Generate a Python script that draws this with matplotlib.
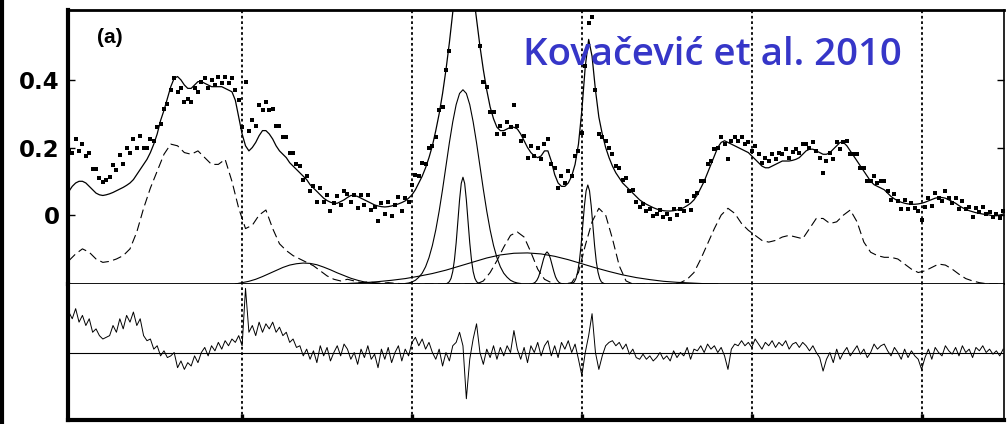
import numpy as np
import matplotlib
matplotlib.use("Agg")
import matplotlib.pyplot as plt
from matplotlib.lines import Line2D

# wavelength grid of the spectrum (Angstrom)
wave = np.arange(4396, 5497, 4)

# best fit model (solid line through the points)
model = [
    0.07, 0.085, 0.095, 0.10, 0.10, 0.095, 0.085, 0.075, 0.065, 0.06,
    0.058, 0.06, 0.063, 0.067, 0.072, 0.077, 0.082, 0.088, 0.095, 0.105,
    0.12, 0.135, 0.15, 0.165, 0.185, 0.21, 0.24, 0.28, 0.31, 0.345,
    0.38, 0.405, 0.41, 0.40, 0.385, 0.375, 0.375, 0.385, 0.395, 0.395,
    0.39, 0.385, 0.38, 0.38, 0.38, 0.38, 0.375, 0.37, 0.365, 0.34,
    0.29, 0.24, 0.205, 0.19, 0.20, 0.215, 0.235, 0.25, 0.25, 0.24,
    0.225, 0.205, 0.19, 0.18, 0.17, 0.155, 0.145, 0.135, 0.125, 0.115,
    0.105, 0.09, 0.08, 0.07, 0.06, 0.05, 0.043, 0.038, 0.035, 0.035,
    0.04, 0.045, 0.052, 0.058, 0.058, 0.055, 0.05, 0.045, 0.04, 0.035,
    0.03, 0.027, 0.025, 0.024, 0.025, 0.027, 0.03, 0.033, 0.037, 0.042,
    0.05, 0.06, 0.075, 0.095, 0.115, 0.14, 0.17, 0.205, 0.25, 0.30,
    0.36, 0.43, 0.51, 0.60, 0.72, 0.86, 0.95, 0.90, 0.78, 0.66,
    0.58, 0.50, 0.43, 0.37, 0.32, 0.285, 0.26, 0.25, 0.25, 0.255,
    0.26, 0.26, 0.255, 0.24, 0.22, 0.20, 0.185, 0.175, 0.17, 0.175,
    0.19, 0.19, 0.16, 0.12, 0.095, 0.085, 0.085, 0.095, 0.115, 0.15,
    0.21, 0.31, 0.44, 0.52, 0.47, 0.37, 0.29, 0.24, 0.20, 0.17,
    0.145, 0.125, 0.11, 0.095, 0.085, 0.075, 0.065, 0.055, 0.045, 0.038,
    0.032, 0.027, 0.022, 0.018, 0.015, 0.013, 0.012, 0.012, 0.013, 0.015,
    0.018, 0.022, 0.028, 0.035, 0.045, 0.06, 0.08, 0.10, 0.125, 0.15,
    0.175, 0.20, 0.215, 0.22, 0.215, 0.21, 0.205, 0.20, 0.195, 0.19,
    0.185, 0.175, 0.165, 0.155, 0.145, 0.14, 0.14, 0.145, 0.15, 0.155,
    0.16, 0.16, 0.16, 0.162, 0.165, 0.17, 0.18, 0.19, 0.195, 0.195,
    0.19, 0.185, 0.18, 0.18, 0.185, 0.195, 0.205, 0.215, 0.215, 0.205,
    0.19, 0.175, 0.16, 0.145, 0.13, 0.115, 0.10, 0.09, 0.085, 0.08,
    0.075, 0.065, 0.055, 0.048, 0.042, 0.038, 0.035, 0.033, 0.032, 0.032,
    0.033, 0.035, 0.038, 0.042, 0.046, 0.05, 0.052, 0.052, 0.05, 0.045,
    0.04, 0.035, 0.028, 0.022, 0.017, 0.013, 0.01, 0.007, 0.005, 0.003,
    0.002, 0.0, -0.002, -0.002, 0.0, 0.003,
]

resid = [
    0.12, 0.10, 0.13, 0.09, 0.11, 0.08, 0.10, 0.06, 0.07, 0.05,
    0.04, 0.045, 0.05, 0.08, 0.06, 0.10, 0.07, 0.11, 0.09, 0.12,
    0.08, 0.10, 0.05, 0.035, 0.04, 0.01, 0.02, -0.01, 0.005, -0.015,
    -0.01, 0.0, -0.045, -0.025, -0.05, -0.03, -0.04, -0.01, -0.03, 0.0,
    0.015, -0.01, 0.02, 0.005, 0.03, 0.01, 0.035, 0.02, 0.04, 0.03,
    0.05, 0.02, 0.19, 0.06, 0.08, 0.05, 0.09, 0.06, 0.085, 0.07,
    0.09, 0.06, 0.075, 0.05, 0.06, 0.03, 0.04, 0.015, 0.02, -0.01,
    0.01, -0.02, 0.005, -0.03, 0.02, -0.01, 0.015, -0.025, 0.0, 0.02,
    -0.01, 0.025, 0.01, -0.02, 0.0, -0.035, 0.01, -0.015, 0.02, -0.02,
    -0.005, -0.045, 0.01, -0.02, 0.015, -0.03, 0.0, 0.02, -0.025, 0.01,
    -0.01, 0.03, 0.045, 0.02, 0.04, 0.01, 0.03, 0.0, -0.02, 0.01,
    -0.04, 0.0, -0.025, 0.02, 0.03, 0.06, 0.02, -0.137, -0.02, 0.04,
    0.085, 0.0, -0.035, 0.01, -0.015, 0.02, -0.02, 0.015, -0.01, 0.02,
    0.0, 0.065, 0.01, -0.02, 0.015, -0.03, 0.02, 0.0, 0.03, -0.01,
    0.02, 0.035, -0.01, 0.02, -0.015, 0.03, 0.01, 0.035, 0.0, 0.025,
    -0.02, -0.068, 0.0, 0.05, 0.115, 0.0, -0.05, -0.01, 0.02, 0.03,
    0.035, 0.02, 0.03, 0.01, 0.025, -0.005, 0.01, -0.015, -0.02, -0.005,
    -0.02, -0.01, -0.025, -0.015, 0.0, -0.02, -0.01, -0.025, 0.005, -0.015,
    0.0, -0.01, 0.015, -0.02, 0.01, 0.005, 0.02, 0.0, 0.025, 0.01,
    0.02, 0.0, 0.015, -0.01, -0.05, 0.01, 0.025, 0.02, 0.035, 0.02,
    0.03, 0.015, 0.04, 0.025, 0.01, 0.03, 0.02, 0.035, 0.015, 0.03,
    0.02, 0.035, 0.01, 0.025, 0.03, 0.015, 0.03, 0.02, 0.005, 0.02,
    0.0, -0.015, -0.055, -0.02, 0.0, -0.03, 0.01, -0.02, 0.0, 0.015,
    -0.01, 0.005, 0.02, -0.005, 0.01, -0.015, 0.0, 0.025, 0.01, 0.02,
    0.025, 0.005, -0.01, 0.015, 0.0, -0.02, 0.01, -0.015, 0.005, -0.01,
    -0.02, -0.05, -0.015, 0.01, -0.02, 0.015, 0.0, -0.01, 0.02, 0.005,
    -0.005, 0.015, -0.01, 0.02, 0.0, 0.01, -0.015, 0.015, 0.005, 0.02,
    0.0, 0.01, -0.005, 0.005, -0.01, 0.01,
]

# Fe II template (dashed, shifted down for display)
feii_wave = np.arange(4396, 5493, 8)
feii = [
    -0.135, -0.115, -0.10, -0.11, -0.13, -0.14, -0.137, -0.13, -0.12, -0.10,
    -0.05, 0.02, 0.08, 0.13, 0.18, 0.21, 0.205, 0.185, 0.18, 0.19,
    0.17, 0.15, 0.15, 0.165, 0.10, 0.02, -0.04, -0.03, 0.0, 0.015,
    -0.04, -0.085, -0.105, -0.12, -0.13, -0.14, -0.15, -0.165, -0.18, -0.19,
    -0.195, -0.19, -0.195, -0.2, -0.198, -0.2, -0.202, -0.2, -0.202, -0.203,
    -0.204, -0.204, -0.204, -0.204, -0.204, -0.204, -0.204, -0.204, -0.204, -0.204,
    -0.204, -0.195, -0.17, -0.135, -0.095, -0.06, -0.05, -0.065, -0.11, -0.16,
    -0.19, -0.2, -0.204, -0.204, -0.2, -0.17, -0.09, -0.02, 0.02, 0.0,
    -0.07, -0.15, -0.195, -0.204, -0.204, -0.204, -0.204, -0.204, -0.204, -0.204,
    -0.2, -0.19, -0.17, -0.13, -0.085, -0.04, 0.0, 0.02, 0.005, -0.025,
    -0.045, -0.06, -0.075, -0.08, -0.075, -0.065, -0.06, -0.065, -0.07, -0.04,
    -0.01, -0.01, -0.025, -0.02, 0.0, 0.015, -0.02, -0.08, -0.11, -0.12,
    -0.125, -0.125, -0.13, -0.145, -0.16, -0.17, -0.165, -0.155, -0.145, -0.148,
    -0.16, -0.175, -0.188, -0.195, -0.2, -0.203, -0.204, -0.204,
]

# Gaussian components (height above the panel floor)
heii_wave = np.arange(4592, 4769, 8)
heii = [0.0, 0.004, 0.008, 0.014, 0.022, 0.031, 0.040, 0.049, 0.056, 0.060,
        0.062, 0.061, 0.057, 0.050, 0.042, 0.033, 0.025, 0.017, 0.011, 0.006,
        0.003, 0.001, 0.0]

hb_broad_wave = np.arange(4792, 4929, 4)
hb_broad = [0.0015, 0.003, 0.006, 0.011, 0.020, 0.032, 0.051, 0.078, 0.114,
            0.160, 0.216, 0.280, 0.349, 0.418, 0.480, 0.531, 0.564, 0.575,
            0.564, 0.531, 0.480, 0.418, 0.349, 0.280, 0.216, 0.160, 0.114,
            0.078, 0.051, 0.032, 0.020, 0.011, 0.006, 0.003, 0.0015]

hb_narrow_wave = np.arange(4840, 4881, 2)
hb_narrow = [0.0, 0.003, 0.007, 0.017, 0.037, 0.072, 0.122, 0.185, 0.249, 0.298,
             0.316, 0.298, 0.249, 0.185, 0.122, 0.072, 0.037, 0.017, 0.007,
             0.003, 0.0]

oiii_4959_wave = np.arange(4939, 4980, 2)
oiii_4959 = [0.0, 0.001, 0.002, 0.005, 0.011, 0.021, 0.037, 0.056, 0.075, 0.089,
             0.095, 0.089, 0.075, 0.056, 0.037, 0.021, 0.011, 0.005, 0.002,
             0.001, 0.0]

oiii_5007_wave = np.arange(4987, 5028, 2)
oiii_5007 = [0.0, 0.003, 0.006, 0.016, 0.035, 0.066, 0.113, 0.172, 0.231, 0.276,
             0.293, 0.276, 0.231, 0.172, 0.113, 0.066, 0.035, 0.016, 0.006,
             0.003, 0.0]

vbroad_wave = np.arange(4712, 5161, 16)
vbroad = [0.0, 0.002, 0.004, 0.007, 0.011, 0.016, 0.023, 0.031, 0.041, 0.053,
          0.065, 0.077, 0.086, 0.091, 0.092, 0.089, 0.082, 0.072, 0.060, 0.048,
          0.037, 0.027, 0.019, 0.013, 0.008, 0.005, 0.003, 0.001, 0.0]

grid_lines = [4600, 4800, 5000, 5200, 5400]
yticks = [0, 0.2, 0.4]
ytick_labels = ["0", "0.2", "0.4"]

model = np.array(model)
resid = np.array(resid)
data = model + resid

xlim = (4395, 5497)
floor = -0.204

fig = plt.figure(figsize=(10.08, 4.24), dpi=100)
ax1 = fig.add_axes([68 / 1008, 1 - 284 / 424, 936 / 1008, 274 / 424])
ax2 = fig.add_axes([68 / 1008, 1 - 420 / 424, 936 / 1008, 136 / 424])

# upper panel
ax1.plot(wave, data, ls="none", marker="s", ms=3.1, mew=0, color="k")
ax1.plot(wave, model, color="k", lw=0.9)
ax1.plot(feii_wave, feii, color="k", lw=0.8, ls=(0, (8, 4)))
for w, v in [(heii_wave, heii), (hb_broad_wave, hb_broad),
             (hb_narrow_wave, hb_narrow), (oiii_4959_wave, oiii_4959),
             (oiii_5007_wave, oiii_5007), (vbroad_wave, vbroad)]:
    ax1.plot(w, floor + np.array(v), color="k", lw=0.8)

# lower panel: residuals
ax2.plot(wave, resid, color="k", lw=0.7)
ax2.axhline(0, color="k", lw=0.8)

for ax in (ax1, ax2):
    for g in grid_lines:
        ax.axvline(g, color="k", lw=1.3, ls=(0, (1.5, 1.5)))
    ax.set_xlim(*xlim)

ax1.set_ylim(floor, 0.607)
ax2.set_ylim(-0.2, 0.203)

ax1.set_xticks([])
ax1.set_yticks(yticks)
ax1.set_yticklabels(ytick_labels, fontsize=16.5, fontweight="bold",
                    family="DejaVu Sans")
ax1.tick_params(axis="y", direction="in", length=5, width=1, pad=6,
                right=True)

ax2.set_yticks([])
ax2.set_xticks(grid_lines)
ax2.set_xticklabels([])
ax2.tick_params(axis="x", direction="in", length=4, width=2.4)

ax1.spines["left"].set_linewidth(3)
ax1.spines["top"].set_linewidth(2)
ax1.spines["right"].set_linewidth(1.2)
ax1.spines["bottom"].set_linewidth(1.3)
ax2.spines["left"].set_linewidth(3)
ax2.spines["bottom"].set_linewidth(3)
ax2.spines["right"].set_linewidth(1.2)
ax2.spines["top"].set_visible(False)

ax1.text(0.031, 0.9, "(a)", transform=ax1.transAxes, fontsize=15,
         fontweight="bold", va="center", family="Liberation Sans")

fig.text(712 / 1008, 1 - 65 / 424, "Kovačević et al. 2010", ha="center",
         va="baseline", fontsize=27.6, family="Open Sans",
         fontweight="semibold", color="#3636c8")

# thick frame edge at the far left
fig.add_artist(Line2D([2 / 1008, 2 / 1008], [0, 1], lw=3, color="k"))

fig.savefig("out.png", dpi=100)
